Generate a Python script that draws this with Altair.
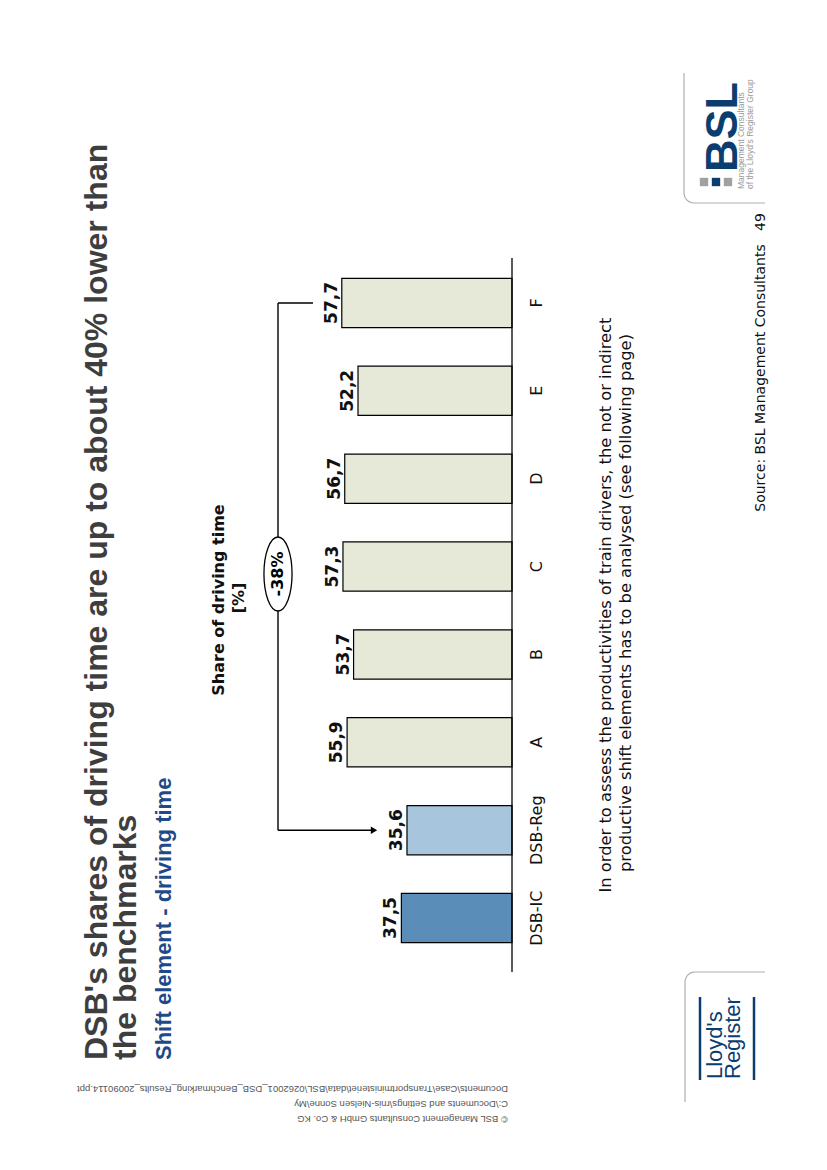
import altair as alt
import pandas as pd

# ---------------- data ----------------
categories = ["DSB-IC", "DSB-Reg", "A", "B", "C", "D", "E", "F"]
values = [37.5, 35.6, 55.9, 53.7, 57.3, 56.7, 52.2, 57.7]
value_labels = ["37,5", "35,6", "55,9", "53,7", "57,3", "56,7", "52,2", "57,7"]
bar_colors = ["#5B8DB9", "#A8C5DE", "#E6E9D8", "#E6E9D8", "#E6E9D8", "#E6E9D8", "#E6E9D8", "#E6E9D8"]

title_lines = ["DSB's shares of driving time are up to about 40% lower than", "the benchmarks"]
subtitle = "Shift element - driving time"
axis_title_lines = ["Share of driving time", "[%]"]
gap_from, gap_to, gap_label = "F", "DSB-Reg", "-38%"
footnote_lines = [
    "In order to assess the productivities of train drivers, the not or indirect",
    "productive shift elements has to be analysed (see following page)",
]
source_text = "Source: BSL Management Consultants"
page_number = "49"
bsl_sub_lines = ["Management Consultants", "of the Lloyd's Register Group"]
lr_lines = ["Lloyd's", "Register"]
copyright_lines = [
    "\u00a9 BSL Management Consultants GmbH & Co. KG",
    "C:\\Documents and Settings\\rnis-Nielsen Sonne\\My",
    "Documents\\Case\\Transportministeriet\\data\\BSL\\0262001_DSB_Benchmarking_Results_20090114.ppt",
]

# ---------------- scales ----------------
y_scale = alt.Scale(domain=categories[::-1], range=[251, 954], paddingInner=0.44, paddingOuter=0.22)
x_scale = alt.Scale(domain=[0, 100], range=[504, 209])

df = pd.DataFrame({"cat": categories, "value": values, "label": value_labels, "color": bar_colors})

bars = alt.Chart(df).mark_bar(stroke="black", strokeWidth=1.2).encode(
    y=alt.Y("cat:N", scale=y_scale, axis=None, sort=None),
    x=alt.X("value:Q", scale=x_scale, axis=None),
    fill=alt.Fill("color:N", scale=None),
)

val_text = alt.Chart(df).mark_text(
    angle=270, align="center", baseline="alphabetic", dy=-5,
    font="DejaVu Sans", fontSize=17, fontWeight="bold", color="#111111",
).encode(y=alt.Y("cat:N", sort=None), x="value:Q", text="label:N")

cat_text = alt.Chart(df).mark_text(
    angle=270, align="center", baseline="alphabetic", dy=30,
    font="DejaVu Sans", fontSize=16, color="#111111",
).encode(y=alt.Y("cat:N", sort=None), x=alt.datum(0), text="cat:N")

base_rule = alt.Chart(pd.DataFrame({"v": [0]})).mark_rule(color="black", strokeWidth=1.3).encode(
    x="v:Q", y=alt.value(250), y2=alt.value(964)
)

# bracket with gap label
br = pd.DataFrame({"a": [gap_from], "b": [gap_to]})
br_vert = alt.Chart(br).mark_rule(color="black", strokeWidth=1.4).encode(
    x=alt.value(270), y=alt.Y("a:N", sort=None), y2="b:N"
)
br_top = alt.Chart(br).mark_rule(color="black", strokeWidth=1.4).encode(
    x=alt.value(270), x2=alt.value(305), y=alt.Y("a:N", sort=None)
)
br_bot = alt.Chart(br).mark_rule(color="black", strokeWidth=1.4).encode(
    x=alt.value(270), x2=alt.value(364), y=alt.Y("b:N", sort=None)
)
br_arrow = alt.Chart(br).mark_point(
    shape="triangle-right", filled=True, size=55, color="black", opacity=1
).encode(x=alt.value(366), y=alt.Y("b:N", sort=None))

ELLIPSE = "M0,-1A0.38,1,0,1,1,0,1A0.38,1,0,1,1,0,-1Z"
one = pd.DataFrame({"t": [gap_label]})
ellipse = alt.Chart(one).mark_point(
    shape=ELLIPSE, size=5476, filled=True, fill="white", stroke="black", strokeWidth=1.3, opacity=1
).encode(x=alt.value(270), y=alt.value(566))


def txt(text, x, y, angle=270, **kw):
    return alt.Chart(pd.DataFrame({"t": [text]})).mark_text(angle=angle, **kw).encode(
        text="t:N", x=alt.value(x), y=alt.value(y)
    )


gap_txt = txt(gap_label, 270, 566, align="center", baseline="middle",
              font="DejaVu Sans", fontSize=16, fontWeight="bold", color="black")

title1 = txt(title_lines[0], 99, 1052, align="left", baseline="alphabetic",
             font="Liberation Sans", fontSize=32, fontWeight="bold", color="#3E3E3E")
title2 = txt(title_lines[1], 128, 1052, align="left", baseline="alphabetic",
             font="Liberation Sans", fontSize=32, fontWeight="bold", color="#3E3E3E")
sub = txt(subtitle, 163, 1052, align="left", baseline="alphabetic",
          font="Liberation Sans", fontSize=22, fontWeight="bold", color="#1F4A8A")

ax1 = txt(axis_title_lines[0], 216, 592, align="center", baseline="alphabetic",
          font="DejaVu Sans", fontSize=16, fontWeight="bold", color="#111111")
ax2 = txt(axis_title_lines[1], 236, 590, align="center", baseline="alphabetic",
          font="DejaVu Sans", fontSize=16, fontWeight="bold", color="#111111")

fn1 = txt(footnote_lines[0], 603, 597, align="center", baseline="alphabetic",
          font="DejaVu Sans", fontSize=16.3, color="#111111")
fn2 = txt(footnote_lines[1], 623, 595, align="center", baseline="alphabetic",
          font="DejaVu Sans", fontSize=16.3, color="#111111")

src = txt(source_text, 757, 370, align="center", baseline="alphabetic",
          font="DejaVu Sans", fontSize=14, color="#111111")
pg = txt(page_number, 757, 214, align="center", baseline="alphabetic",
         font="DejaVu Sans", fontSize=14, color="#111111")

# copyright footer (upside down)
cp = [txt(line, 500, yy, angle=180, align="left", baseline="alphabetic",
          font="Liberation Sans", fontSize=9.5, color="#555555")
      for line, yy in zip(copyright_lines, [1108, 1093, 1078])]

# BSL logo
bsl = txt("BSL", 729, 164, align="left", baseline="alphabetic",
          font="Liberation Sans", fontSize=45, fontWeight="bold", color="#0B3D6E")
sq = pd.DataFrame({"px": [696, 708, 720], "c": ["#A0A0A0", "#0B3D6E", "#A0A0A0"]})
squares = alt.Chart(sq).mark_square(size=70, opacity=1).encode(
    x=alt.X("px:Q", scale=None, axis=None), y=alt.value(174), color=alt.Color("c:N", scale=None)
)
bsl_s1 = txt(bsl_sub_lines[0], 736, 181, align="left", baseline="alphabetic",
             font="Liberation Sans", fontSize=8.5, color="#9A9A9A")
bsl_s2 = txt(bsl_sub_lines[1], 745, 181, align="left", baseline="alphabetic",
             font="Liberation Sans", fontSize=8.5, color="#9A9A9A")

bsl_border = pd.DataFrame({
    "px": [676, 676, 676.34, 677.34, 678.93, 681, 683.4, 686, 757],
    "py": [65, 185, 187.6, 190, 192.07, 193.66, 194.66, 195, 195],
    "o": list(range(9)),
})
bsl_line = alt.Chart(bsl_border).mark_line(color="#B0B0B0", strokeWidth=1.2).encode(
    x=alt.X("px:Q", scale=None, axis=None), y=alt.Y("py:Q", scale=None, axis=None), order="o:Q"
)

# Lloyd's Register logo
lr_border = pd.DataFrame({
    "px": [757, 687, 684.4, 682, 679.93, 678.34, 677.34, 677, 677],
    "py": [964, 964, 964.34, 965.34, 966.93, 969, 971.4, 974, 1094],
    "o": list(range(9)),
})
lr_line = alt.Chart(lr_border).mark_line(color="#B0B0B0", strokeWidth=1.2).encode(
    x=alt.X("px:Q", scale=None, axis=None), y=alt.Y("py:Q", scale=None, axis=None), order="o:Q"
)
lr_bars = alt.Chart(pd.DataFrame({"px": [692, 746]})).mark_rule(color="#0B3D6E", strokeWidth=2.5).encode(
    x=alt.X("px:Q", scale=None, axis=None), y=alt.value(989), y2=alt.value(1072)
)
lr1 = txt(lr_lines[0], 714, 1071, align="left", baseline="alphabetic",
          font="Liberation Sans", fontSize=22, color="#0B3D6E")
lr2 = txt(lr_lines[1], 732, 1071, align="left", baseline="alphabetic",
          font="Liberation Sans", fontSize=22, color="#0B3D6E")

chart = alt.layer(
    bars, base_rule, val_text, cat_text,
    br_vert, br_top, br_bot, br_arrow, ellipse, gap_txt,
    title1, title2, sub, ax1, ax2, fn1, fn2, src, pg, *cp,
    bsl_line, bsl, squares, bsl_s1, bsl_s2,
    lr_line, lr_bars, lr1, lr2,
).properties(
    width=811, height=1154, padding=0, autosize=alt.AutoSizeParams(type="none"), background="white"
).configure_view(stroke=None)

chart.save("out.html", embed_options={"renderer": "svg", "actions": False})
